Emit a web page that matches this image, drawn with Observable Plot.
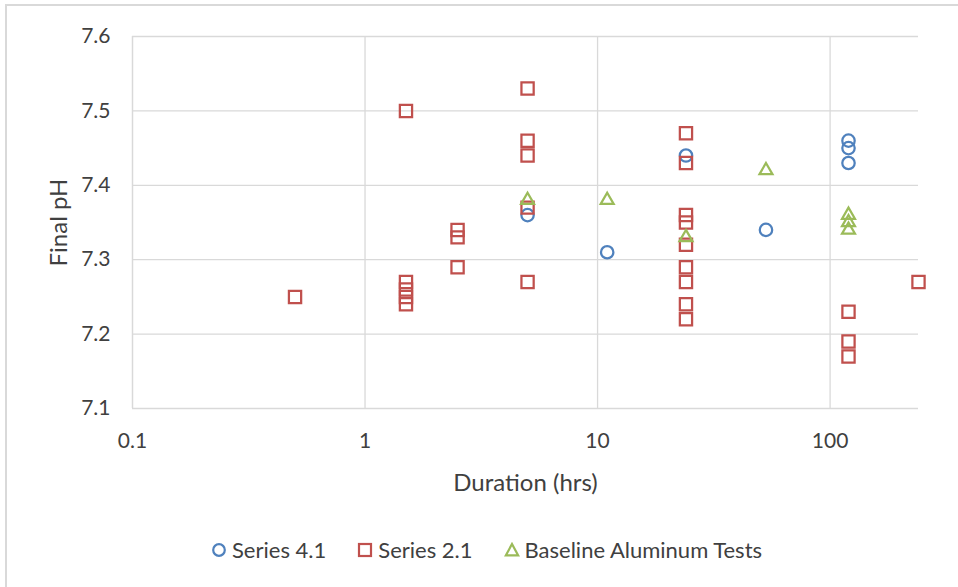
<!DOCTYPE html>
<html><head><meta charset="utf-8">
<script src="https://cdn.jsdelivr.net/npm/d3@7"></script>
<script src="https://cdn.jsdelivr.net/npm/@observablehq/plot@0.6"></script>
<style>
body{margin:0;background:#fff;font-family:Lato,"Noto Sans",sans-serif;}
#wrap{position:relative;width:958px;height:587px;overflow:hidden;background:#fff}
#frame{position:absolute;left:5px;top:4px;width:1000px;height:700px;border-top:2px solid #d9d9d9;border-left:2px solid #d9d9d9;}
#chart{position:absolute;left:0;top:0}
#legend{position:absolute;top:536px;left:211px;display:flex;align-items:center;font-size:22px;color:#404040;white-space:nowrap}
#legend .item{display:flex;align-items:center;margin-right:31px}
#legend svg{margin-right:5px}
</style></head>
<body><div id="wrap"><div id="frame"></div><div id="chart"></div><div id="legend"></div></div>
<script>
// ---- data ----
const seriesNames = ["Series 4.1", "Series 2.1", "Baseline Aluminum Tests"];
const seriesColors = ["#4F81BD", "#C0504D", "#9BBB59"];

const s41Duration = [5, 11, 24, 53, 120, 120, 120];
const s41PH       = [7.36, 7.31, 7.44, 7.34, 7.46, 7.45, 7.43];

const s21Duration = [0.5, 1.5, 1.5, 1.5, 1.5, 1.5, 2.5, 2.5, 2.5, 5, 5, 5, 5, 5,
                     24, 24, 24, 24, 24, 24, 24, 24, 24, 120, 120, 120, 240];
const s21PH       = [7.25, 7.50, 7.27, 7.26, 7.25, 7.24, 7.34, 7.33, 7.29, 7.53, 7.46, 7.44, 7.37, 7.27,
                     7.47, 7.43, 7.36, 7.35, 7.32, 7.29, 7.27, 7.24, 7.22, 7.23, 7.19, 7.17, 7.27];

const baseDuration = [5, 11, 24, 53, 120, 120, 120];
const basePH       = [7.38, 7.38, 7.33, 7.42, 7.36, 7.35, 7.34];

const xTicks = [0.1, 1, 10, 100];
const xTickLabels = ["0.1", "1", "10", "100"];
const yTicks = [7.1, 7.2, 7.3, 7.4, 7.5, 7.6];
const xDomain = [0.1, 240];
const yDomain = [7.1, 7.6];

// ---- build ----
const toRows = (xs, ys) => xs.map((x, i) => ({x, y: ys[i]}));
const s41 = toRows(s41Duration, s41PH);
const s21 = toRows(s21Duration, s21PH);
const base = toRows(baseDuration, basePH);

const grid = "#d9d9d9";
const txt = "#404040";

const chart = Plot.plot({
  width: 958,
  height: 510,
  marginLeft: 132,
  marginRight: 40,
  marginTop: 36,
  marginBottom: 102,
  style: {fontFamily: "Lato, 'Noto Sans', sans-serif", fontSize: "21px", color: txt, background: "transparent"},
  x: {type: "log", domain: xDomain},
  y: {domain: yDomain},
  marks: [
    Plot.gridX(xTicks.slice(1), {stroke: grid, strokeOpacity: 1, strokeWidth: 1.3}),
    Plot.gridY(yTicks.slice(1), {stroke: grid, strokeOpacity: 1, strokeWidth: 1.3}),
    Plot.ruleX([xDomain[0]], {stroke: grid, strokeWidth: 1.5}),
    Plot.ruleY([yDomain[0]], {stroke: grid, strokeWidth: 1.5}),
    Plot.axisX(xTicks, {tickSize: 0, tickPadding: 25, tickFormat: d => xTickLabels[xTicks.indexOf(d)] ?? String(d),
      label: "Duration (hrs)", labelAnchor: "center", labelArrow: "none", labelOffset: 82}),
    Plot.axisY(yTicks, {tickSize: 0, tickPadding: 22, tickFormat: d => d.toFixed(1),
      label: "Final pH", labelAnchor: "center", labelArrow: "none", labelOffset: 83}),
    Plot.dot(s41, {x: "x", y: "y", symbol: "circle", r: 6.2, stroke: seriesColors[0], strokeWidth: 2.25, fill: "none"}),
    Plot.dot(s21, {x: "x", y: "y", symbol: "square", r: 6.9, stroke: seriesColors[1], strokeWidth: 2.25, fill: "none"}),
    Plot.dot(base, {x: "x", y: "y", symbol: "triangle", r: 4.8, stroke: seriesColors[2], strokeWidth: 2.25, fill: "none"})
  ]
});
chart.querySelectorAll("[aria-label='x-axis label'] text, [aria-label='y-axis label'] text").forEach(t => t.style.fontSize = "24px");
document.getElementById("chart").appendChild(chart);

// ---- legend ----
const legendShapes = [
  c => `<circle cx="8" cy="8" r="5.8" fill="none" stroke="${c}" stroke-width="2.2"/>`,
  c => `<rect x="2" y="2" width="12" height="12" fill="none" stroke="${c}" stroke-width="2.2"/>`,
  c => `<path d="M8 2 L14.2 13.4 L1.8 13.4 Z" fill="none" stroke="${c}" stroke-width="2.2"/>`
];
const legend = document.getElementById("legend");
seriesNames.forEach((name, i) => {
  const item = document.createElement("div");
  item.className = "item";
  item.innerHTML = `<svg width="16" height="16">${legendShapes[i](seriesColors[i])}</svg><span>${name}</span>`;
  legend.appendChild(item);
});
</script></body></html>
